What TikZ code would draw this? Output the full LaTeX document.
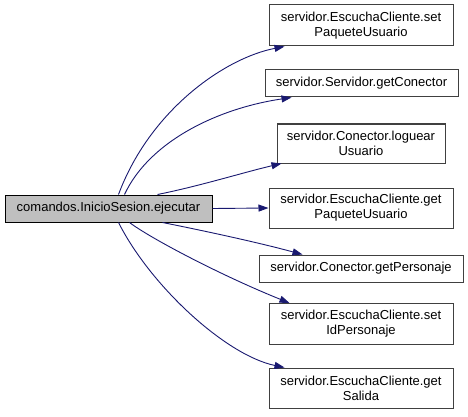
\documentclass[tikz,border=0pt]{standalone}
\usepackage{fontspec}
\setmainfont{Liberation Sans}
\usetikzlibrary{arrows.meta}
\definecolor{edgecol}{HTML}{191970}
\definecolor{srcfill}{HTML}{BFBFBF}
\definecolor{boxline}{HTML}{404040}
\begin{document}
\begin{tikzpicture}[x=1pt,y=-1pt,
  fnbox/.style={draw=boxline,line width=1pt,fill=white,inner sep=0pt,align=center,
    font=\fontsize{13}{15}\selectfont,minimum width=184pt,minimum height=41pt},
  onebox/.style={fnbox,minimum height=27pt},
  srcbox/.style={draw=black,line width=1pt,fill=srcfill,inner sep=0pt,
    font=\fontsize{13}{15}\selectfont,minimum width=207pt,minimum height=27pt},
  call/.style={draw=edgecol,line width=0.9pt,-{Triangle[length=10pt,width=7pt]}}]
\useasboundingbox (0,0) rectangle (468,417);
\node[srcbox] (src) at (108.5,208.5) {comandos.InicioSesion.ejecutar};
\node[fnbox] (t1) at (361,25.5) {servidor.EscuchaCliente.set\\PaqueteUsuario};
\node[onebox,minimum width=193pt] (t2) at (361.5,83.5) {servidor.Servidor.getConector};
\node[fnbox,minimum width=168pt,minimum height=39pt] (t3) at (361,143.5) {servidor.Conector.loguear\\Usuario};
\node[fnbox,minimum height=40pt] (t4) at (361,208) {servidor.EscuchaCliente.get\\PaqueteUsuario};
\node[onebox,minimum width=204pt] (t5) at (361,268.5) {servidor.Conector.getPersonaje};
\node[fnbox] (t6) at (361,324) {servidor.EscuchaCliente.set\\IdPersonaje};
\node[fnbox,minimum height=40pt] (t7) at (361,388) {servidor.EscuchaCliente.get\\Salida};
\draw[call] ([xshift=114pt]src.north west) .. controls (150,110) and (225,58) .. ([xshift=16pt]t1.south west);
\draw[call] ([xshift=120pt]src.north west) .. controls (150,140) and (220,108) .. ([xshift=27pt]t2.south west);
\draw[call] ([xshift=153pt]src.north west) .. controls (200,186) and (245,172) .. ([xshift=5pt]t3.south west);
\draw[call] (src.east) -- (t4.west);
\draw[call] ([xshift=158pt]src.south west) .. controls (210,232) and (260,243) .. ([xshift=44pt]t5.north west);
\draw[call] ([xshift=125pt]src.south west) .. controls (150,238) and (220,275) .. ([xshift=21pt]t6.north west);
\draw[call] ([xshift=114pt]src.south west) .. controls (150,285) and (225,355) .. ([xshift=16pt]t7.north west);
\end{tikzpicture}
\end{document}
